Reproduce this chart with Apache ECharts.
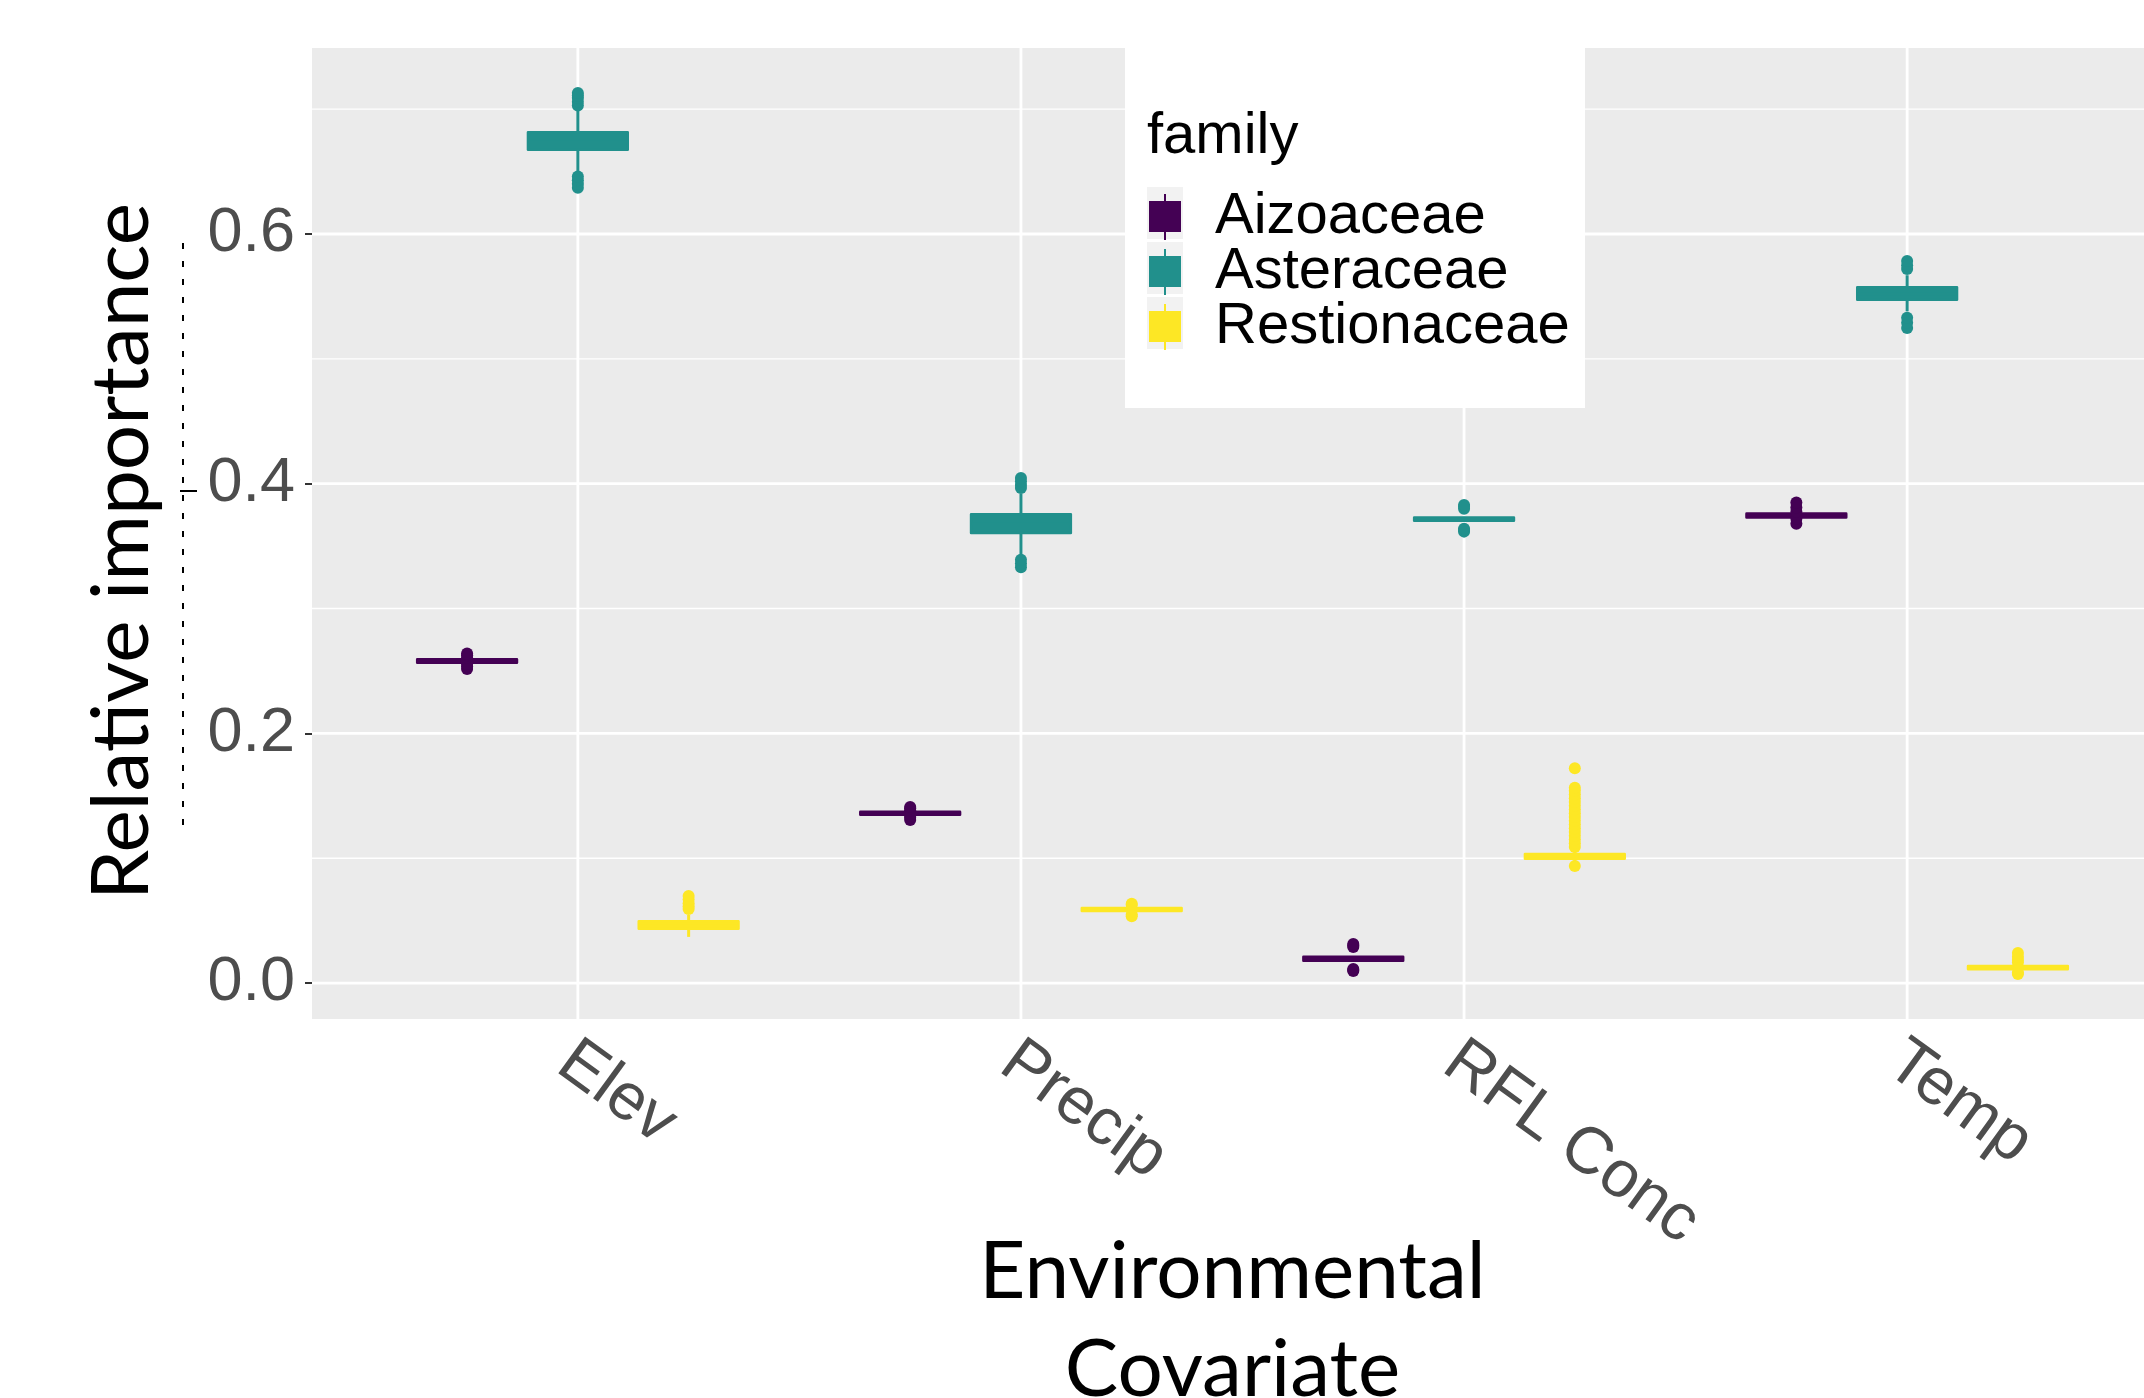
<!DOCTYPE html>
<html>
<head>
<meta charset="utf-8">
<script src="https://cdn.jsdelivr.net/npm/echarts@6/dist/echarts.min.js"></script>
<style>html,body{margin:0;padding:0;background:#fff;}#chart{width:2144px;height:1398px;}</style>
</head>
<body>
<div id="chart"></div>
<script>
// ---------- data ----------
const categories = ['Elev', 'Precip', 'RFL Conc', 'Temp'];
const families = ['Aizoaceae', 'Asteraceae', 'Restionaceae'];
const familyColors = ['#440154', '#21908C', '#FDE725'];
const yTicks = [0, 0.2, 0.4, 0.6];
const yMinorTicks = [0.1, 0.3, 0.5, 0.7];

// box stats per category: [lower whisker, Q1, median, Q3, upper whisker]
const aizoaceaeBox = [
  [0.2566, 0.2566, 0.2580, 0.2594, 0.2594],
  [0.1349, 0.1349, 0.1360, 0.1371, 0.1371],
  [0.0178, 0.0178, 0.0194, 0.0210, 0.0210],
  [0.3730, 0.3730, 0.3745, 0.3760, 0.3760]
];
const asteraceaeBox = [
  [0.6500, 0.6675, 0.6740, 0.6815, 0.7000],
  [0.3430, 0.3605, 0.3680, 0.3755, 0.3920],
  [0.3700, 0.3703, 0.3716, 0.3729, 0.3735],
  [0.5380, 0.5473, 0.5520, 0.5574, 0.5670]
];
const restionaceaeBox = [
  [0.0370, 0.0435, 0.0460, 0.0495, 0.0545],
  [0.0577, 0.0577, 0.0589, 0.0601, 0.0601],
  [0.0960, 0.0996, 0.1015, 0.1034, 0.1070],
  [0.0111, 0.0111, 0.0124, 0.0137, 0.0137]
];

// outliers per category
const aizoaceaeOutliers = [
  [0.2515, 0.2535, 0.2555, 0.2605, 0.2625, 0.2640],
  [0.1306, 0.1325, 0.1338, 0.1385, 0.1400, 0.1410],
  [0.0096, 0.0104, 0.0112, 0.0288, 0.0300, 0.0312],
  [0.3680, 0.3720, 0.3775, 0.3810, 0.3850]
];
const asteraceaeOutliers = [
  [0.6370, 0.6400, 0.6430, 0.6460, 0.7030, 0.7060, 0.7090, 0.7110, 0.7130],
  [0.3330, 0.3360, 0.3390, 0.3965, 0.3990, 0.4020, 0.4045],
  [0.3616, 0.3630, 0.3640, 0.3800, 0.3815, 0.3830],
  [0.5247, 0.5290, 0.5330, 0.5720, 0.5750, 0.5784]
];
const restionaceaeOutliers = [
  [0.0593, 0.0615, 0.0640, 0.0670, 0.0697],
  [0.0535, 0.0550, 0.0625, 0.0635],
  [0.0937, 0.1090, 0.1120, 0.1150, 0.1180, 0.1210, 0.1240, 0.1270, 0.1300, 0.1330,
   0.1360, 0.1390, 0.1420, 0.1450, 0.1480, 0.1510, 0.1540, 0.1565, 0.1720],
  [0.0072, 0.0085, 0.0165, 0.0185, 0.0210, 0.0240]
];

const boxData = [aizoaceaeBox, asteraceaeBox, restionaceaeBox];
const outlierData = [aizoaceaeOutliers, asteraceaeOutliers, restionaceaeOutliers];

// ---------- layout / style ----------
const dodge = [-0.25, 0, 0.25];
const BOX_HALF = 0.1125;
const FONT = 'Liberation Sans, Arial, sans-serif';
const TITLE_FONT = 'Lato, Noto Sans, sans-serif';

function boxRenderer(offset, color) {
  return function (params, api) {
    const x = api.value(0) + offset;
    const low = api.coord([x, api.value(1)]);
    const q1 = api.coord([x, api.value(2)]);
    const med = api.coord([x, api.value(3)]);
    const q3 = api.coord([x, api.value(4)]);
    const high = api.coord([x, api.value(5)]);
    const hw = api.size([BOX_HALF, 0])[0];
    return {
      type: 'group',
      children: [
        { type: 'line', shape: { x1: low[0], y1: low[1], x2: low[0], y2: q1[1] }, style: { stroke: color, lineWidth: 3 } },
        { type: 'line', shape: { x1: high[0], y1: high[1], x2: high[0], y2: q3[1] }, style: { stroke: color, lineWidth: 3 } },
        { type: 'rect', shape: { x: q3[0] - hw, y: q3[1], width: 2 * hw, height: q1[1] - q3[1] },
          style: { fill: color, stroke: color, lineWidth: 2.6, lineJoin: 'round' } },
        { type: 'line', shape: { x1: med[0] - hw, y1: med[1], x2: med[0] + hw, y2: med[1] }, style: { stroke: color, lineWidth: 2.6 } }
      ]
    };
  };
}

const series = [];
// gridlines (vertical at categories, horizontal at major/minor ticks)
series.push({
  type: 'custom', name: 'vgrid', silent: true, z: 1,
  data: categories.map((c, i) => [i + 1, 0]),
  renderItem: function (params, api) {
    const p = api.coord([api.value(0), 0]);
    const cs = params.coordSys;
    return { type: 'line', shape: { x1: p[0], y1: cs.y, x2: p[0], y2: cs.y + cs.height }, style: { stroke: '#FFFFFF', lineWidth: 2.8 } };
  }
});
series.push({
  type: 'custom', name: 'hgrid', silent: true, z: 1,
  data: yTicks.map(v => [1, v, 2.8]).concat(yMinorTicks.map(v => [1, v, 1.4])),
  renderItem: function (params, api) {
    const p = api.coord([1, api.value(1)]);
    const cs = params.coordSys;
    return { type: 'line', shape: { x1: cs.x, y1: p[1], x2: cs.x + cs.width, y2: p[1] }, style: { stroke: '#FFFFFF', lineWidth: api.value(2) } };
  }
});

families.forEach((fam, s) => {
  series.push({
    type: 'custom', name: fam, z: 2,
    itemStyle: { color: familyColors[s] },
    encode: { x: 0, y: [1, 2, 3, 4, 5] },
    data: boxData[s].map((b, i) => [i + 1].concat(b)),
    renderItem: boxRenderer(dodge[s], familyColors[s])
  });
  const pts = [];
  outlierData[s].forEach((arr, i) => arr.forEach(v => pts.push([i + 1 + dodge[s], v])));
  series.push({
    type: 'scatter', name: fam + ' outliers', z: 3,
    symbol: 'circle', symbolSize: 12,
    itemStyle: { color: familyColors[s], opacity: 1 },
    data: pts
  });
});

const keyIcon = 'path://M0,7H32V38H0Z M15,0H17V7H15Z M15,38H17V46H15Z';

const option = {
  backgroundColor: '#FFFFFF',
  animation: false,
  grid: { left: 312, top: 48, width: 1861, height: 971, show: true, backgroundColor: '#EBEBEB', borderWidth: 0, containLabel: false, outerBoundsMode: 'none' },
  xAxis: {
    type: 'value', min: 0.4, max: 4.6,
    axisLine: { show: false },
    splitLine: { show: false },
    axisTick: { show: true, customValues: [1, 2, 3, 4], length: 9, lineStyle: { color: '#333333', width: 2 } },
    axisLabel: {
      customValues: [1, 2, 3, 4], rotate: -36, margin: 18,
      align: 'left', verticalAlign: 'top', lineHeight: 45,
      formatter: v => categories[Math.round(v) - 1],
      fontSize: 66, fontFamily: FONT, color: '#4D4D4D'
    },
    name: 'Environmental\nCovariate', nameLocation: 'middle', nameGap: 204, nameMoveOverlap: false,
    nameTextStyle: { fontSize: 80, fontFamily: TITLE_FONT, color: '#000000', lineHeight: 98, padding: [0, 20, 0, 0] }
  },
  yAxis: {
    type: 'value', min: -0.0288, max: 0.749,
    axisLine: { show: false },
    splitLine: { show: false },
    axisTick: { show: true, customValues: yTicks, length: 7, lineStyle: { color: '#333333', width: 2 } },
    axisLabel: {
      customValues: yTicks, margin: 17,
      formatter: v => v.toFixed(1),
      fontSize: 63, fontFamily: FONT, color: '#4D4D4D'
    },
    name: 'Relative importance', nameLocation: 'middle', nameRotate: 90, nameGap: 150,
    nameTextStyle: { fontSize: 80, fontFamily: TITLE_FONT, color: '#000000', padding: [0, 36, 0, 0] }
  },
  title: {
    text: 'family', left: 1147, top: 108, padding: 0,
    textStyle: { fontSize: 58, fontWeight: 'normal', fontFamily: FONT, color: '#000000' }
  },
  legend: {
    orient: 'vertical', left: 1149, top: 188, padding: 0,
    itemWidth: 32, itemHeight: 46, itemGap: -3,
    selectedMode: false, z: 6,
    data: families.map(f => ({ name: f, icon: keyIcon })),
    textStyle: { fontSize: 58, fontFamily: FONT, color: '#000000', padding: [0, 0, 0, 29] }
  },
  graphic: [
    { type: 'rect', z: 4, silent: true, shape: { x: 1125, y: 48, width: 460, height: 360 }, style: { fill: '#FFFFFF' } },
    { type: 'rect', z: 5, silent: true, shape: { x: 1147, y: 187, width: 36, height: 52 }, style: { fill: '#F2F2F2' } },
    { type: 'rect', z: 5, silent: true, shape: { x: 1147, y: 242, width: 36, height: 52 }, style: { fill: '#F2F2F2' } },
    { type: 'rect', z: 5, silent: true, shape: { x: 1147, y: 297, width: 36, height: 52 }, style: { fill: '#F2F2F2' } },
    { type: 'line', z: 5, silent: true, shape: { x1: 183, y1: 243, x2: 183, y2: 828 }, style: { stroke: '#000000', lineWidth: 2, lineDash: [6, 12] } },
    { type: 'line', z: 5, silent: true, shape: { x1: 180, y1: 491, x2: 197, y2: 491 }, style: { stroke: '#000000', lineWidth: 2 } }
  ],
  series: series
};

const chart = echarts.init(document.getElementById('chart'), null, { renderer: 'canvas' });
chart.setOption(option);
</script>
</body>
</html>
